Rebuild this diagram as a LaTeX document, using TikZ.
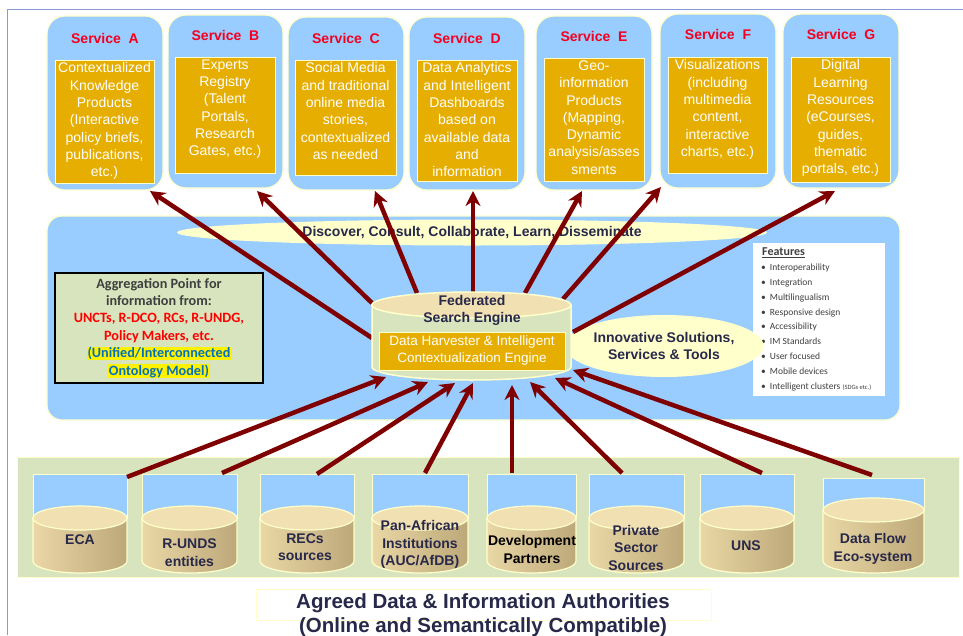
\documentclass[tikz,border=0pt]{standalone}
\usepackage{fontspec}
\setmainfont{Liberation Sans}
\newfontfamily\calibri{Carlito}
\usepackage{tikz}
\usetikzlibrary{arrows.meta,shapes.geometric}
\usepackage{xcolor}

\definecolor{svcblue}{HTML}{99CCFF}
\definecolor{edgeyel}{HTML}{FFFFCC}
\definecolor{paleyel}{HTML}{FFFFCC}
\definecolor{svcgold}{HTML}{E6AE00}
\definecolor{titlered}{HTML}{F5001E}
\definecolor{arrowred}{HTML}{7F0000}
\definecolor{bandgreen}{HTML}{D7E4BD}
\definecolor{cyltop}{HTML}{F1E0B1}
\definecolor{cylL}{HTML}{EAD7A6}
\definecolor{cylM}{HTML}{EFDFB2}
\definecolor{cylR}{HTML}{BCA878}
\definecolor{textnavy}{HTML}{27284A}
\definecolor{agggray}{HTML}{3F3F3F}
\definecolor{aggblue}{HTML}{0070C0}
\definecolor{framecol}{HTML}{8A9AD6}
\setlength{\fboxsep}{0.5pt}

\begin{document}
\begin{tikzpicture}[x=1pt,y=-1pt,>={Stealth[length=15pt,width=15pt]},
    svcbox/.style={draw=edgeyel, line width=1.2pt, fill=svcblue, rounded corners=18pt, inner sep=0pt},
    svctitle/.style={text=titlered, font=\fontsize{14}{17}\selectfont\bfseries},
    svcinner/.style={draw=edgeyel, line width=1pt, fill=svcgold, inner sep=0pt},
    svctext/.style={anchor=north, text=white, align=center, inner sep=3pt, font=\fontsize{14}{17.3}\selectfont},
    flow/.style={->, line width=4.5pt, draw=arrowred},
    cylside/.style={draw=edgeyel, line width=1.2pt, left color=cylL, middle color=cylM, right color=cylR},
    cylcap/.style={draw=edgeyel, line width=1.2pt, fill=cyltop},
    srctext/.style={text=textnavy, align=center, font=\fontsize{14}{17.5}\selectfont\bfseries}]
    \useasboundingbox (0,0) rectangle (963,635);

    % Cadre
    \draw[framecol, line width=1.2pt] (7.5,635) -- (7.5,9.5) -- (963,9.5);

    % Services
    \node[svcbox, minimum width=116pt, minimum height=174pt] (svcA) at (105,103) {};
    \node[svctitle] (titA) at (105,38) {Service\ \ A};
    \node[svcinner, minimum width=99pt, minimum height=123pt] (boxA) at (104.5,121.5) {};
    \node[svctext] (txtA) at (boxA.north) {Contextualized\\Knowledge\\Products\\(Interactive\\policy briefs,\\publications,\\etc.)};

    \node[svcbox, minimum width=115pt, minimum height=173pt] (svcB) at (225.5,101.5) {};
    \node[svctitle] (titB) at (225.5,35) {Service\ \ B};
    \node[svcinner, minimum width=100pt, minimum height=116pt] (boxB) at (225,115) {};
    \node[svctext] (txtB) at (boxB.north) {Experts\\Registry\\(Talent\\Portals,\\Research\\Gates, etc.)};

    \node[svcbox, minimum width=116pt, minimum height=173pt] (svcC) at (346,103.5) {};
    \node[svctitle] (titC) at (346,38) {Service\ \ C};
    \node[svcinner, minimum width=101pt, minimum height=115pt] (boxC) at (345.5,117.5) {};
    \node[svctext] (txtC) at (boxC.north) {Social Media\\and traditional\\online media\\stories,\\contextualized\\as needed};

    \node[svcbox, minimum width=116pt, minimum height=173pt] (svcD) at (467,103.5) {};
    \node[svctitle] (titD) at (467,38) {Service\ \ D};
    \node[svcinner, minimum width=100pt, minimum height=121pt] (boxD) at (467,120.5) {};
    \node[svctext] (txtD) at (boxD.north) {Data Analytics\\and Intelligent\\Dashboards\\based on\\available data\\and\\information};

    \node[svcbox, minimum width=116pt, minimum height=174pt] (svcE) at (594,103) {};
    \node[svctitle] (titE) at (594,36) {Service\ \ E};
    \node[svcinner, minimum width=100pt, minimum height=123pt] (boxE) at (594,119.5) {};
    \node[svctext] (txtE) at (boxE.north) {Geo-\\information\\Products\\(Mapping,\\Dynamic\\analysis/asses\\sments};

    \node[svcbox, minimum width=116pt, minimum height=174pt] (svcF) at (718,101) {};
    \node[svctitle] (titF) at (718,34) {Service\ \ F};
    \node[svcinner, minimum width=99pt, minimum height=116pt] (boxF) at (717.5,115) {};
    \node[svctext] (txtF) at (boxF.north) {Visualizations\\(including\\multimedia\\content,\\interactive\\charts, etc.)};

    \node[svcbox, minimum width=116pt, minimum height=174pt] (svcG) at (841,101) {};
    \node[svctitle] (titG) at (841,34) {Service\ \ G};
    \node[svcinner, minimum width=99pt, minimum height=125pt] (boxG) at (840.5,119.5) {};
    \node[svctext] (txtG) at (boxG.north) {Digital\\Learning\\Resources\\(eCourses,\\guides,\\thematic\\portals, etc.)};

    % Plateforme
    \node[svcbox, rounded corners=15pt, minimum width=853pt, minimum height=204pt] (hub) at (473.5,318) {};
    \node[ellipse, fill=paleyel, inner sep=0pt, minimum width=590pt, minimum height=26pt,
        text=textnavy, font=\fontsize{14}{17}\selectfont\bfseries] (discover) at (472,232.5)
        {Discover, Consult, Collaborate, Learn, Disseminate};

    \node[draw=black, line width=1.5pt, fill=bandgreen, minimum width=208pt, minimum height=110pt,
        align=center, font=\calibri\bfseries\fontsize{14.2}{17.4}\selectfont] (aggBox) at (159,328)
        {{\color{agggray}Aggregation Point for}\\{\color{agggray}information from:}\\
         {\color{red}UNCTs, R-DCO, RCs, R-UNDG,}\\{\color{red}Policy Makers, etc.}\\
         \colorbox{yellow}{\color{aggblue}(Unified/Interconnected}\\\colorbox{yellow}{\color{aggblue}Ontology Model)}};

    \node[fill=white, inner sep=0pt, minimum width=132pt, minimum height=153pt] (featBox) at (819,319.5) {};
    \node[anchor=west, inner sep=0pt, text=agggray, font=\calibri\bfseries\fontsize{12}{14}\selectfont] (featTitle) at (762,253) {\underline{Features}};
    \node[anchor=north west, inner sep=0pt, align=left, text=agggray, font=\calibri\fontsize{9.5}{14.9}\selectfont] (featList) at (761,263.5)
        {\textbullet\hspace{4pt}Interoperability\\\textbullet\hspace{4pt}Integration\\\textbullet\hspace{4pt}Multilingualism\\
         \textbullet\hspace{4pt}Responsive design\\\textbullet\hspace{4pt}Accessibility\\\textbullet\hspace{4pt}IM Standards\\
         \textbullet\hspace{4pt}User focused\\\textbullet\hspace{4pt}Mobile devices\\
         \textbullet\hspace{4pt}Intelligent clusters {\fontsize{6.5}{7}\selectfont(SDGs etc.)}};

    \node[ellipse, fill=paleyel, inner sep=0pt, minimum width=168pt, minimum height=62pt, align=center,
        text=textnavy, font=\fontsize{14}{17}\selectfont\bfseries] (innov) at (664,346)
        {Innovative Solutions,\\Services \& Tools};

    % Fleches vers les services
    \coordinate (outA) at (372,338);  \coordinate (inA) at (150,191);
    \coordinate (outB) at (372,303);  \coordinate (inB) at (257,191);
    \coordinate (outC) at (417,293);  \coordinate (inC) at (375,191);
    \coordinate (outD) at (473,292);  \coordinate (inD) at (473,191);
    \coordinate (outE) at (525,293);  \coordinate (inE) at (582,191);
    \coordinate (outF) at (563,299);  \coordinate (inF) at (661,187);
    \coordinate (outG) at (573,332);  \coordinate (inG) at (835,191);
    \draw[flow] (outA) -- (inA);
    \draw[flow] (outB) -- (inB);
    \draw[flow] (outC) -- (inC);
    \draw[flow] (outD) -- (inD);
    \draw[flow] (outE) -- (inE);
    \draw[flow] (outF) -- (inF);
    \draw[flow] (outG) -- (inG);

    % Moteur de recherche
    \draw[draw=edgeyel, line width=1.5pt, fill=bandgreen] (372,305) -- (372,367)
        arc[start angle=180, end angle=0, x radius=99.5, y radius=13] -- (571,305) -- cycle;
    \draw[cylcap, line width=1.5pt] (471.5,305) ellipse[x radius=99.5, y radius=13];
    \node[text=textnavy, align=center, font=\fontsize{14}{17}\selectfont\bfseries] (fedTitle) at (472,310.5) {Federated\\Search Engine};
    \node[svcinner, minimum width=186pt, minimum height=38pt, text=white, align=center,
        font=\fontsize{13.5}{17}\selectfont] (harvester) at (472,351)
        {Data Harvester \& Intelligent\\Contextualization Engine};

    % Sources
    \node[draw=edgeyel, line width=1pt, fill=bandgreen, minimum width=942pt, minimum height=120pt] (band) at (488,517) {};

    \draw[draw=edgeyel, fill=svcblue] (33,474) rectangle (127,518);
    \draw[cylside] (33,518) -- (33,561) arc[start angle=180, end angle=0, x radius=47, y radius=12] -- (127,518) -- cycle;
    \draw[cylcap] (80,518) ellipse[x radius=47, y radius=12];
    \node[srctext] (srcECA) at (80,540) {ECA};

    \draw[draw=edgeyel, fill=svcblue] (142,474) rectangle (237,518);
    \draw[cylside] (142,518) -- (142,561) arc[start angle=180, end angle=0, x radius=47.5, y radius=12] -- (237,518) -- cycle;
    \draw[cylcap] (189.5,518) ellipse[x radius=47.5, y radius=12];
    \node[srctext] (srcRUNDS) at (189.5,552.5) {R-UNDS\\entities};

    \draw[draw=edgeyel, fill=svcblue] (260,474) rectangle (354,518);
    \draw[cylside] (260,518) -- (260,561) arc[start angle=180, end angle=0, x radius=47, y radius=12] -- (354,518) -- cycle;
    \draw[cylcap] (307,518) ellipse[x radius=47, y radius=12];
    \node[srctext] (srcRECs) at (305,547) {RECs\\sources};

    \draw[draw=edgeyel, fill=svcblue] (372,474) rectangle (468,518);
    \draw[cylside] (372,518) -- (372,561) arc[start angle=180, end angle=0, x radius=48, y radius=12] -- (468,518) -- cycle;
    \draw[cylcap] (420,518) ellipse[x radius=48, y radius=12];
    \node[srctext] (srcPan) at (420,544.5) {Pan-African\\Institutions\\(AUC/AfDB)};

    \draw[draw=edgeyel, fill=svcblue] (487,474) rectangle (576,518);
    \draw[cylside] (487,518) -- (487,561) arc[start angle=180, end angle=0, x radius=44.5, y radius=12] -- (576,518) -- cycle;
    \draw[cylcap] (531.5,518) ellipse[x radius=44.5, y radius=12];
    \node[srctext, text=black] (srcDev) at (532,549.5) {Development\\Partners};

    \draw[draw=edgeyel, fill=svcblue] (589,474) rectangle (684,518);
    \draw[cylside] (589,518) -- (589,561) arc[start angle=180, end angle=0, x radius=47.5, y radius=12] -- (684,518) -- cycle;
    \draw[cylcap] (636.5,518) ellipse[x radius=47.5, y radius=12];
    \node[srctext] (srcPriv) at (636,547.5) {Private\\Sector\\Sources};

    \draw[draw=edgeyel, fill=svcblue] (700,474) rectangle (794,518);
    \draw[cylside] (700,518) -- (700,561) arc[start angle=180, end angle=0, x radius=47, y radius=12] -- (794,518) -- cycle;
    \draw[cylcap] (747,518) ellipse[x radius=47, y radius=12];
    \node[srctext] (srcUNS) at (746,546) {UNS};

    \draw[draw=edgeyel, fill=svcblue] (823,478) rectangle (924,510);
    \draw[cylside] (823,510) -- (823,561) arc[start angle=180, end angle=0, x radius=50.5, y radius=12] -- (924,510) -- cycle;
    \draw[cylcap] (873.5,510) ellipse[x radius=50.5, y radius=12];
    \node[srctext] (srcFlow) at (873,549) {Data Flow\\Eco-system};

    % Fleches vers le moteur
    \coordinate (fromECA) at (127,477);   \coordinate (toECA) at (386,377);
    \coordinate (fromRUNDS) at (222,473); \coordinate (toRUNDS) at (428,382);
    \coordinate (fromRECs) at (317,474);  \coordinate (toRECs) at (455,383);
    \coordinate (fromPan) at (425,473);   \coordinate (toPan) at (473,383);
    \coordinate (fromDev) at (512,473);   \coordinate (toDev) at (512,385);
    \coordinate (fromPriv) at (622,473);  \coordinate (toPriv) at (530,382);
    \coordinate (fromUNS) at (762,473);   \coordinate (toUNS) at (555,378);
    \coordinate (fromFlow) at (872,475);  \coordinate (toFlow) at (573,370);
    \draw[flow] (fromECA) -- (toECA);
    \draw[flow] (fromRUNDS) -- (toRUNDS);
    \draw[flow] (fromRECs) -- (toRECs);
    \draw[flow] (fromPan) -- (toPan);
    \draw[flow] (fromDev) -- (toDev);
    \draw[flow] (fromPriv) -- (toPriv);
    \draw[flow] (fromUNS) -- (toUNS);
    \draw[flow] (fromFlow) -- (toFlow);

    % Titre
    \node[draw=edgeyel, line width=1pt, fill=white, minimum width=455pt, minimum height=31pt] (authBox) at (483.5,604.5) {};
    \node[align=center, text=textnavy, font=\fontsize{20.5}{24}\selectfont\bfseries] (authText) at (483,615)
        {Agreed Data \& Information Authorities\\(Online and Semantically Compatible)};
\end{tikzpicture}
\end{document}
